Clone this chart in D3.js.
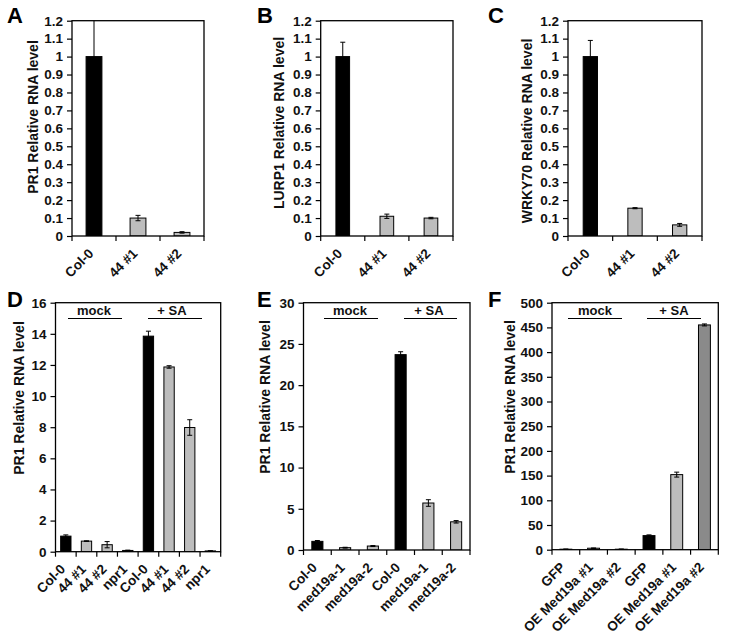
<!DOCTYPE html>
<html><head><meta charset="utf-8">
<script src="https://cdn.jsdelivr.net/npm/d3@7"></script>
<style>
html,body{margin:0;padding:0;background:#fff;}
svg text{font-family:"Liberation Sans",Arial,sans-serif;font-weight:bold;fill:#111;}
</style></head><body>
<svg id="c" width="729" height="635"></svg>
<script>
// ---------- data ----------
const catsA = ["Col-0", "44 #1", "44 #2"];
const valsA = [1.0, 0.10, 0.02];
const errA  = [0.25, 0.015, 0.004];
const valsB = [1.0, 0.11, 0.10];
const errB  = [0.08, 0.012, 0.004];
const valsC = [1.0, 0.155, 0.062];
const errC  = [0.09, 0.003, 0.008];
const ticksABC = [0, 0.1, 0.2, 0.3, 0.4, 0.5, 0.6, 0.7, 0.8, 0.9, 1, 1.1, 1.2];

const catsD = ["Col-0", "44 #1", "44 #2", "npr1", "Col-0", "44 #1", "44 #2", "npr1"];
const valsD = [1.0, 0.68, 0.45, 0.08, 13.85, 11.87, 7.98, 0.05];
const errD  = [0.08, 0.02, 0.2, 0.02, 0.32, 0.08, 0.5, 0.01];
const ticksD = [0, 2, 4, 6, 8, 10, 12, 14, 16];

const catsE = ["Col-0", "med19a-1", "med19a-2", "Col-0", "med19a-1", "med19a-2"];
const valsE = [1.05, 0.28, 0.48, 23.7, 5.7, 3.42];
const errE  = [0.1, 0.05, 0.06, 0.35, 0.4, 0.15];
const ticksE = [0, 5, 10, 15, 20, 25, 30];

const catsF = ["GFP", "OE Med19a #1", "OE Med19a #2", "GFP", "OE Med19a #1", "OE Med19a #2"];
const valsF = [1, 3, 1, 28.5, 152, 455];
const errF  = [0.3, 0.5, 0.3, 1.5, 5, 2];
const ticksF = [0, 50, 100, 150, 200, 250, 300, 350, 400, 450, 500];

const groupLabels = ["mock", "+ SA"];

// ---------- styles ----------
const fills = {k: "#000000", g: "#bdbdbd", d: "#8a8a8a"};

const panels = [
  {letter: "A", lx: 7, ly: 23, cats: catsA, vals: valsA, errs: errA, ticks: ticksABC, max: 1.2,
   fill: ["k","g","g"], x0: 72, x1: 204, y0: 20.7, y1: 236, bw: 0.36,
   ylabel: "PR1 Relative RNA level", yl: [33, 117]},
  {letter: "B", lx: 257, ly: 23, cats: catsA, vals: valsB, errs: errB, ticks: ticksABC, max: 1.2,
   fill: ["k","g","g"], x0: 320.7, x1: 453, y0: 20.7, y1: 236, bw: 0.31,
   ylabel: "LURP1 Relative RNA level", yl: [279, 123]},
  {letter: "C", lx: 488, ly: 23, cats: catsA, vals: valsC, errs: errC, ticks: ticksABC, max: 1.2,
   fill: ["k","g","g"], x0: 568, x1: 702, y0: 20.7, y1: 236, bw: 0.32,
   ylabel: "WRKY70 Relative RNA level", yl: [527, 131]},
  {letter: "D", lx: 7, ly: 307, cats: catsD, vals: valsD, errs: errD, ticks: ticksD, max: 16,
   fill: ["k","g","g","g","k","g","g","g"], x0: 55.5, x1: 220.7, y0: 302.7, y1: 551.7, bw: 0.5,
   ylabel: "PR1 Relative RNA  level", yl: [19, 398],
   groups: [[68, 122, 94], [148, 202, 172]]},
  {letter: "E", lx: 257, ly: 307, cats: catsE, vals: valsE, errs: errE, ticks: ticksE, max: 30,
   fill: ["k","g","g","k","g","g"], x0: 303.5, x1: 470, y0: 302.7, y1: 550, bw: 0.4,
   ylabel: "PR1 Relative RNA level", yl: [265, 397],
   groups: [[324, 378, 350], [404, 457, 429]]},
  {letter: "F", lx: 488, ly: 307, cats: catsF, vals: valsF, errs: errF, ticks: ticksF, max: 500,
   fill: ["k","g","d","k","g","d"], x0: 552, x1: 718.3, y0: 302.7, y1: 549.7, bw: 0.43,
   ylabel: "PR1 Relative RNA level", yl: [510, 397],
   groups: [[568, 622, 595], [647, 701, 674]]}
];

const svg = d3.select("#c");
svg.append("rect").attr("width", 729).attr("height", 635).attr("fill", "#fff");

panels.forEach((p, pi) => {
  const g = svg.append("g");
  const idx = p.cats.map((c, i) => i);
  const x = d3.scaleBand().domain(idx).range([p.x0, p.x1]).paddingInner(0).paddingOuter(0);
  const y = d3.scaleLinear().domain([0, p.max]).range([p.y1, p.y0]);
  const clipId = "clip" + pi;
  svg.append("clipPath").attr("id", clipId).append("rect")
    .attr("x", p.x0).attr("y", p.y0).attr("width", p.x1 - p.x0).attr("height", p.y1 - p.y0);

  // panel letter
  g.append("text").attr("x", p.lx).attr("y", p.ly).attr("font-size", 22).text(p.letter).style("fill", "#000");

  // y axis
  const ya = g.append("g").attr("transform", `translate(${p.x0},0)`)
    .call(d3.axisLeft(y).tickValues(p.ticks).tickSize(5).tickPadding(4).tickFormat(d3.format("~g")));
  ya.select(".domain").remove();
  ya.selectAll(".tick line").attr("stroke", "#000").attr("stroke-width", 1.2);
  ya.selectAll(".tick text").attr("font-size", 13.5).attr("font-family", null).style("fill", "#111");

  // y label
  g.append("text").attr("transform", `translate(${p.yl[0]},${p.yl[1]}) rotate(-90)`)
    .attr("text-anchor", "middle").attr("dy", "0.35em").attr("font-size", 14).text(p.ylabel);

  // bars
  const bwid = x.bandwidth() * p.bw;
  const bg = g.append("g").attr("clip-path", `url(#${clipId})`);
  bg.selectAll("rect.bar").data(idx).join("rect").attr("class", "bar")
    .attr("x", i => x(i) + x.bandwidth() / 2 - bwid / 2)
    .attr("y", i => y(p.vals[i]))
    .attr("width", bwid)
    .attr("height", i => y(0) - y(p.vals[i]))
    .attr("fill", i => fills[p.fill[i]])
    .attr("stroke", "#000").attr("stroke-width", 1);

  // error bars
  const cap = 2.5;
  idx.forEach(i => {
    const cx = x(i) + x.bandwidth() / 2;
    const yt = y(p.vals[i] + p.errs[i]), yb = y(Math.max(0, p.vals[i] - p.errs[i]));
    bg.append("line").attr("x1", cx).attr("x2", cx).attr("y1", yt).attr("y2", yb)
      .attr("stroke", "#000").attr("stroke-width", 1);
    bg.append("line").attr("x1", cx - cap).attr("x2", cx + cap).attr("y1", yt).attr("y2", yt)
      .attr("stroke", "#000").attr("stroke-width", 1);
    bg.append("line").attr("x1", cx - cap).attr("x2", cx + cap).attr("y1", yb).attr("y2", yb)
      .attr("stroke", "#000").attr("stroke-width", 1);
  });

  // frame
  g.append("rect").attr("x", p.x0).attr("y", p.y0).attr("width", p.x1 - p.x0).attr("height", p.y1 - p.y0)
    .attr("fill", "none").attr("stroke", "#000").attr("stroke-width", 1.3);

  // x ticks at band boundaries
  const bounds = idx.map(i => x(i)).concat([p.x1]);
  g.selectAll("line.xt").data(bounds).join("line").attr("class", "xt")
    .attr("x1", d => d).attr("x2", d => d).attr("y1", p.y1).attr("y2", p.y1 + 5)
    .attr("stroke", "#000").attr("stroke-width", 1.2);

  // x labels
  g.selectAll("text.xl").data(idx).join("text").attr("class", "xl")
    .attr("transform", i => `translate(${x(i) + x.bandwidth() / 2 - 3},${p.y1 + 15}) rotate(-45)`)
    .attr("text-anchor", "end").attr("dy", "0.35em").attr("font-size", 13.5)
    .text(i => p.cats[i]);

  // group labels
  if (p.groups) {
    p.groups.forEach((gr, k) => {
      g.append("line").attr("x1", gr[0]).attr("x2", gr[1]).attr("y1", 318.5).attr("y2", 318.5)
        .attr("stroke", "#000").attr("stroke-width", 1.2);
      g.append("text").attr("x", gr[2]).attr("y", 315).attr("text-anchor", "middle")
        .attr("font-size", 13).text(groupLabels[k]);
    });
  }
});
</script>
</body></html>
